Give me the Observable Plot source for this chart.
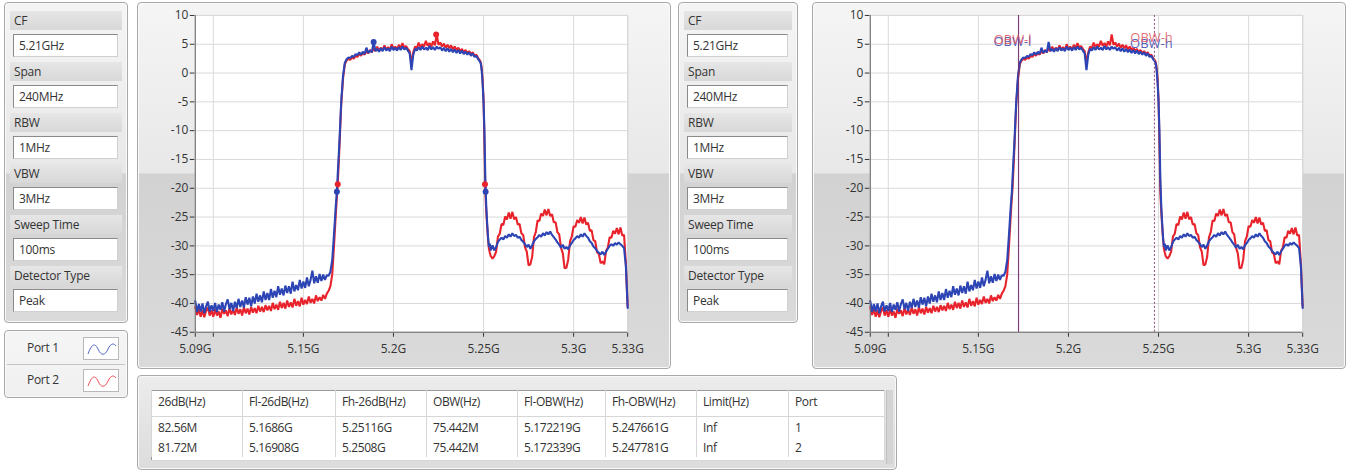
<!DOCTYPE html>
<html><head><meta charset="utf-8">
<script src="https://cdn.jsdelivr.net/npm/d3@7"></script>
<script src="https://cdn.jsdelivr.net/npm/@observablehq/plot@0.6"></script>
<style>
html,body{margin:0;padding:0;background:#fff;}
body{width:1349px;height:473px;position:relative;overflow:hidden;font-family:"Open Sans",sans-serif;color:#333;}
.panel{position:absolute;box-sizing:border-box;border:1px solid #a9a9a9;border-radius:4px;
  background:linear-gradient(to bottom,#f5f5f5 0px,#e8e8e8 170px,#d2d2d2 171px,#dadada 100%);
  box-shadow:inset 0 0 0 1px #f9f9f9;}
.lbl{position:absolute;left:5px;right:5px;height:19px;font-size:12px;line-height:19px;padding-left:4px;
  background:linear-gradient(#e6e6e6,#d8d8d8);letter-spacing:-0.2px;}
.box{position:absolute;left:8px;right:9px;height:23px;background:#fff;border:1px solid #8a8a8a;
  border-right-color:#d0d0d0;border-bottom-color:#d0d0d0;box-sizing:border-box;font-size:12px;line-height:21px;padding-left:5px;letter-spacing:-0.3px;}
.chart svg{position:absolute;left:0;top:0;}
table.res{position:absolute;left:13px;top:14px;border-collapse:collapse;background:#fff;border:1px solid #9a9a9a;border-right-color:#d8d8d8;border-bottom-color:#d8d8d8;font-size:12px;letter-spacing:-0.4px;table-layout:fixed;}
table.res td{border-left:1px solid #d6d6d6;padding:0 0 0 6px;white-space:nowrap;overflow:hidden;}
table.res tr.h td{height:26px;border-bottom:1px solid #d6d6d6;vertical-align:top;padding-top:2px;box-sizing:border-box;}
table.res tr.r td{height:20px;}
</style></head>
<body>
<div class="panel" id="ctl1" style="left:4px;top:2px;width:124px;height:321px"></div>
<div class="panel chart" id="chart1" style="left:137px;top:2px;width:534px;height:367px"></div>
<div class="panel" id="ctl2" style="left:678px;top:2px;width:120px;height:321px"></div>
<div class="panel chart" id="chart2" style="left:812px;top:2px;width:534px;height:367px"></div>
<div class="panel" id="legend" style="left:4px;top:330px;width:124px;height:68px"></div>
<div class="panel" id="tablePanel" style="left:137px;top:375px;width:760px;height:95px;background:linear-gradient(#ececec,#dcdcdc)"></div>
<script>
// ---------- settings panel ----------
const settingLabels = ["CF", "Span", "RBW", "VBW", "Sweep Time", "Detector Type"];
const settingValues = ["5.21GHz", "240MHz", "1MHz", "3MHz", "100ms", "Peak"];

// ---------- legend ----------
const portNames = ["Port 1", "Port 2"];
const BLUE = "#2c44b4", RED = "#e8232b";
const portColors = [BLUE, RED];

// ---------- axes ----------
const xTicks = [5.09, 5.1, 5.15, 5.2, 5.25, 5.3, 5.33];
const xTickLabels = ["5.09G", "", "5.15G", "5.2G", "5.25G", "5.3G", "5.33G"];
const yTicks = [-45, -40, -35, -30, -25, -20, -15, -10, -5, 0, 5, 10];

// ---------- sweep frequency grid (MHz) ----------
const fLeft = d3.range(5090, 5164);           // 1 MHz sweep points
const fRise = [5164, 5165, 5166, 5167, 5168, 5168.6, 5169, 5170, 5171, 5172, 5173, 5174, 5175];
const fTop = d3.range(5176, 5249);
const fFall = [5248.5, 5249, 5249.5, 5250, 5250.5, 5251, 5251.5, 5252, 5252.5, 5253, 5253.5, 5254, 5255, 5256];
const fRight = d3.range(5257, 5331);

// ---------- Port 1 (blue) trace, dBm ----------
const p1Left = [-39.6,-41.5,-40.1,-41.4,-40.0,-41.7,-40.5,-39.7,-41.4,-40.3,
  -41.3,-39.9,-41.5,-40.2,-41.1,-39.8,-41.4,-40.1,-39.3,-41.0,
  -39.9,-41.3,-39.7,-40.8,-39.2,-40.6,-39.5,-40.7,-38.9,-40.2,
  -39.0,-40.5,-38.8,-40.0,-38.3,-39.7,-38.6,-39.8,-37.9,-39.4,
  -38.2,-39.4,-37.5,-39.0,-37.8,-38.9,-37.0,-38.5,-37.4,-38.6,
  -36.9,-38.2,-37.0,-38.3,-36.2,-37.9,-36.8,-37.7,-35.9,-37.4,
  -36.2,-37.3,-35.5,-37.0,-35.9,-34.3,-36.5,-35.3,-36.4,-34.9,
  -36.1,-35.0,-35.9,-35.1];
const p1Rise = [-35.2,-34.5,-32.5,-28,-23,-20.6,-18,-12,-5,-0.5,1.8,2.4,2.7];
const p1Top = [2.6,3.0,2.8,3.3,3.1,3.6,3.2,3.7,3.3,4.4,
  3.5,3.9,3.6,5.4,3.8,4.2,3.7,4.3,3.8,4.5,
  3.9,4.3,3.8,4.6,4.0,4.4,3.9,4.5,4.0,4.6,
  4.1,4.4,3.9,3.4,0.5,3.2,4.2,3.9,4.5,4.0,
  4.6,4.1,4.4,4.0,4.7,4.1,4.5,4.0,4.6,4.2,
  4.5,3.9,4.4,3.8,4.3,3.7,4.2,3.6,4.1,3.5,
  4.0,3.4,3.9,3.3,3.7,3.2,3.6,3.0,3.4,2.8,
  3.0,2.4,2.0];
const p1Fall = [1.6,0.4,-1.8,-5,-10,-18.5,-23,-26,-28.5,-30.2,-29.6,-30.8,-29.9,-30.8];
const p1Right = [-30.2,-29.3,-28.9,-28.6,-28.9,-28.3,-28.6,-28.0,-28.4,-27.8,
  -28.3,-28.1,-28.6,-28.4,-29.0,-29.3,-29.7,-30.2,-29.8,-30.5,
  -29.9,-29.2,-28.8,-28.5,-28.1,-28.4,-27.8,-28.2,-27.6,-28.0,
  -27.5,-28.1,-28.5,-28.9,-29.4,-29.8,-30.3,-29.8,-30.5,-30.2,
  -30.6,-29.9,-29.5,-29.0,-28.7,-28.3,-28.6,-28.0,-28.4,-27.8,
  -28.3,-28.6,-29.2,-29.5,-30.1,-30.4,-30.9,-31.2,-31.5,-31.0,
  -31.6,-31.0,-30.5,-30.0,-29.7,-30.0,-29.5,-29.8,-29.4,-29.7,
  -30.0,-30.4,-33.5,-40.8];

// ---------- Port 2 (red) trace, dBm ----------
const p2Left = [-40.6,-42.0,-41.0,-42.3,-41.2,-42.4,-41.3,-40.7,-42.1,-41.2,
  -42.3,-41.0,-42.1,-41.4,-42.5,-40.9,-41.8,-41.2,-42.2,-40.8,
  -41.9,-41.1,-42.0,-40.7,-41.8,-41.0,-42.1,-40.6,-41.7,-40.9,
  -41.9,-40.6,-41.6,-40.8,-41.7,-40.4,-41.4,-40.6,-41.5,-40.3,
  -41.2,-40.4,-41.3,-39.9,-41.0,-40.2,-41.1,-39.7,-40.8,-39.9,
  -40.9,-39.5,-40.6,-39.8,-40.7,-39.2,-40.4,-39.6,-40.5,-39.0,
  -40.2,-39.4,-40.1,-38.8,-39.9,-39.2,-40.0,-38.6,-39.6,-38.9,
  -39.5,-38.5,-39.2,-38.3];
const p2Rise = [-37.8,-37,-35,-30,-24.5,-21.5,-19.8,-13,-5.5,-1,1.5,2.2,2.5];
const p2Top = [2.3,2.7,2.5,3.0,2.8,3.3,3.0,3.5,3.2,3.8,
  3.4,4.0,3.6,4.3,3.8,4.6,3.9,4.4,4.0,4.8,
  4.1,4.5,4.0,5.0,4.2,4.6,4.1,4.9,4.3,5.2,
  4.4,4.7,4.2,3.8,1.8,3.6,4.6,4.3,5.3,4.5,
  5.0,4.6,5.6,4.7,5.2,4.6,5.5,4.8,6.7,4.9,
  5.3,4.6,5.1,4.4,4.9,4.3,4.8,4.1,4.6,4.0,
  4.4,3.8,4.2,3.6,4.0,3.5,3.8,3.3,3.6,3.0,
  3.2,2.6,2.2];
const p2Fall = [1.8,0.8,-1.2,-4.5,-12,-20.5,-24,-26.5,-28.8,-30.5,-31.2,-31.8,-32.2,-31.8];
const p2Right = [-31.0,-28.4,-27.9,-26.2,-26.4,-24.9,-25.4,-24.2,-25.3,-24.1,
  -25.4,-25.0,-26.3,-26.2,-27.8,-28.1,-30.2,-31.0,-33.4,-33.2,
  -31.9,-28.5,-27.6,-25.6,-25.7,-24.4,-24.8,-23.7,-24.7,-23.6,
  -24.8,-24.5,-25.9,-25.9,-27.6,-28.0,-30.3,-31.3,-33.9,-33.8,
  -32.4,-29.2,-28.4,-26.6,-26.7,-25.5,-26.0,-25.0,-26.1,-25.1,
  -26.3,-26.0,-27.4,-27.3,-29.0,-29.2,-31.1,-31.4,-33.0,-32.7,
  -33.2,-30.9,-30.3,-28.5,-28.6,-27.4,-27.9,-26.9,-28.0,-26.8,
  -28.2,-28.1,-33.0,-40.5];

// ---------- measurement results ----------
const tableHeader = ["26dB(Hz)", "Fl-26dB(Hz)", "Fh-26dB(Hz)", "OBW(Hz)", "Fl-OBW(Hz)", "Fh-OBW(Hz)", "Limit(Hz)", "Port"];
const resultPort1 = ["82.56M", "5.1686G", "5.25116G", "75.442M", "5.172219G", "5.247661G", "Inf", "1"];
const resultPort2 = ["81.72M", "5.16908G", "5.2508G", "75.442M", "5.172339G", "5.247781G", "Inf", "2"];
const colWidths = [91, 93, 91, 91, 88, 91, 92, 96];
const fl26 = [5.1686, 5.16908];      // GHz, port 1, port 2
const fh26 = [5.25116, 5.2508];
const peakFreq = [5.189, 5.2237];
const peakLevel = [5.4, 6.7];        // dBm
const obwLow = [5.172219, 5.172339];
const obwHigh = [5.247661, 5.247781];

// ---------- build rows ----------
function zip(fs, vs) { const n = Math.min(fs.length, vs.length); const out = []; for (let i = 0; i < n; i++) out.push({f: fs[i] / 1000, v: vs[i]}); return out; }
const port1 = [].concat(zip(fLeft, p1Left), zip(fRise, p1Rise), zip(fTop, p1Top), zip(fFall, p1Fall), zip(fRight, p1Right));
const port2 = [].concat(zip(fLeft, p2Left), zip(fRise, p2Rise), zip(fTop, p2Top), zip(fFall, p2Fall), zip(fRight, p2Right));
const markers = [0, 1].map(i => [
  {f: peakFreq[i], v: peakLevel[i]},
  {f: fl26[i], v: peakLevel[i] - 26},
  {f: fh26[i], v: peakLevel[i] - 26}
]);

function makeChart(showMarkers, showObw) {
  const marks = [
    Plot.frame({fill: "white", stroke: "#c4c4c4"}),
    Plot.ruleX(xTicks, {stroke: "#dadada"}),
    Plot.ruleY(yTicks, {stroke: "#dadada"}),
    Plot.line(port2, {x: "f", y: "v", stroke: RED, strokeWidth: 2.1, strokeLinejoin: "miter"}),
    Plot.line(port1, {x: "f", y: "v", stroke: BLUE, strokeWidth: 2.1, strokeLinejoin: "miter"}),
    Plot.ruleX([xTicks[0]], {stroke: "#6a6a6a"}),
    Plot.ruleY([yTicks[0]], {stroke: "#6a6a6a"})
  ];
  if (showMarkers) {
    marks.push(Plot.dot(markers[1], {x: "f", y: "v", r: 3, fill: RED, stroke: null}));
    marks.push(Plot.dot(markers[0], {x: "f", y: "v", r: 3, fill: BLUE, stroke: null}));
  }
  if (showObw) {
    marks.push(Plot.ruleX([obwLow[1]], {stroke: "#b02a45", strokeWidth: 1}));
    marks.push(Plot.ruleX([obwLow[0]], {stroke: "#3a3a9a", strokeOpacity: 0.55, strokeWidth: 1}));
    marks.push(Plot.ruleX([obwHigh[1]], {stroke: "#c06070", strokeDasharray: "2,2", strokeWidth: 1}));
    marks.push(Plot.ruleX([obwHigh[0]], {stroke: "#5a5aa8", strokeOpacity: 0.5, strokeDasharray: "2,2", strokeWidth: 1}));
    marks.push(Plot.text([obwLow[0]], {x: d => d, y: 5.6, text: () => "OBW-l", fill: "#5b60b8", dx: -6, dy: 1.5, fontSize: 13}));
    marks.push(Plot.text([obwLow[1]], {x: d => d, y: 5.6, text: () => "OBW-l", fill: "#e0555f", fillOpacity: 0.85, dx: -6, dy: -1, fontSize: 13}));
    marks.push(Plot.text([obwHigh[0]], {x: d => d, y: 5.6, text: () => "OBW-h", fill: "#5b60b8", dx: -3, dy: 3, fontSize: 13}));
    marks.push(Plot.text([obwHigh[1]], {x: d => d, y: 5.6, text: () => "OBW-h", fill: "#e0555f", fillOpacity: 0.85, dx: -3, dy: -3, fontSize: 13}));
  }
  return Plot.plot({
    width: 534, height: 367,
    marginLeft: 57, marginRight: 43, marginTop: 12, marginBottom: 37,
    style: {background: "transparent", fontFamily: "'Open Sans', sans-serif", fontSize: "12px", color: "#333", overflow: "visible"},
    x: {domain: [xTicks[0], xTicks[xTicks.length - 1]], ticks: xTicks, tickFormat: d => xTickLabels[xTicks.indexOf(d)] ?? "", tickSize: 5, tickPadding: 7, label: null},
    y: {domain: [yTicks[0], yTicks[yTicks.length - 1]], ticks: yTicks, tickFormat: d => String(d), tickSize: 5, tickPadding: 2, label: null},
    marks
  });
}
document.getElementById("chart1").appendChild(makeChart(true, false));
document.getElementById("chart2").appendChild(makeChart(false, true));

// settings panels
for (const id of ["ctl1", "ctl2"]) {
  const p = document.getElementById(id);
  settingLabels.forEach((lab, i) => {
    const l = document.createElement("div"); l.className = "lbl"; l.style.top = (8 + 51 * i) + "px"; l.textContent = lab; p.appendChild(l);
    const b = document.createElement("div"); b.className = "box"; b.style.top = (31 + 51 * i) + "px"; b.textContent = settingValues[i]; p.appendChild(b);
  });
}

// legend
const lg = document.getElementById("legend");
portNames.forEach((name, i) => {
  const row = document.createElement("div");
  row.style.cssText = `position:absolute;left:2px;right:2px;top:${2 + 32 * i}px;height:31px;` + (i === 0 ? "border-bottom:1px solid #c4c4c4;" : "");
  row.innerHTML = `<div style="position:absolute;left:20px;top:6px;font-size:12px;line-height:18px;letter-spacing:-0.3px">${name}</div>
   <svg width="36" height="23" style="position:absolute;left:76px;top:4px;background:#fff;border:1px solid #b8b8b8;box-sizing:border-box">
   <path d="M4,16 C8,5 11,5 14,11 C17,18 21,18 24,11 C27,5 30,5 32,8" fill="none" stroke="${portColors[i]}" stroke-opacity="0.8" stroke-width="1"/></svg>`;
  lg.appendChild(row);
});

// results table
const tp = document.getElementById("tablePanel");
let html = `<table class="res"><colgroup>${colWidths.map(w => `<col style="width:${w}px">`).join("")}</colgroup>`;
html += `<tr class="h">${tableHeader.map(h => `<td>${h}</td>`).join("")}</tr>`;
for (const r of [resultPort1, resultPort2]) html += `<tr class="r">${r.map(c => `<td>${c}</td>`).join("")}</tr>`;
html += `<tr><td colspan="8" style="height:3px;border:none"></td></tr></table>`;
tp.innerHTML = html + `<div style="position:absolute;left:748px;top:14px;width:6px;height:74px;background:#d4d4d4;border-left:1px solid #c0c0c0"></div>`;
</script>
</body></html>
